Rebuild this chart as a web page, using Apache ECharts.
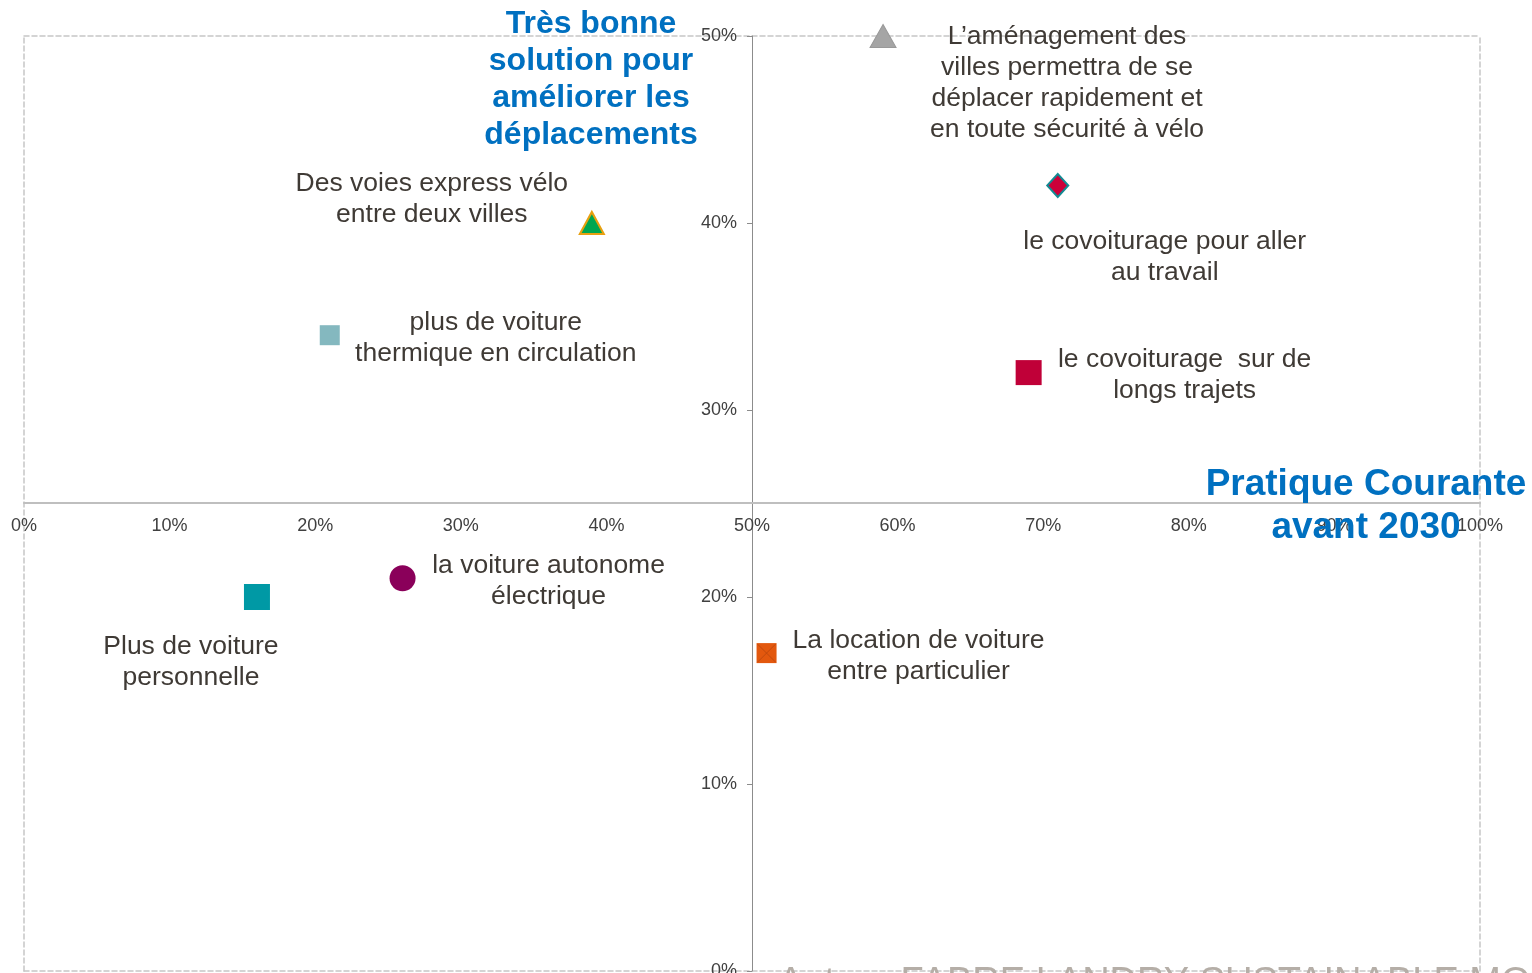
<!DOCTYPE html>
<html>
<head>
<meta charset="utf-8">
<script src="https://cdn.jsdelivr.net/npm/echarts@6/dist/echarts.min.js"></script>
<style>
  html, body { margin: 0; padding: 0; background: #fff; overflow: hidden; }
  #chart { width: 1532px; height: 973px; }
</style>
</head>
<body>
<div id="chart"></div>
<script>
// données
const pointNames = [
  "L’aménagement des\nvilles permettra de se\ndéplacer rapidement et\nen toute sécurité à vélo",
  "le covoiturage pour aller\nau travail",
  "Des voies express vélo\nentre deux villes",
  "plus de voiture\nthermique en circulation",
  "le covoiturage  sur de\nlongs trajets",
  "la voiture autonome\nélectrique",
  "Plus de voiture\npersonnelle",
  "La location de voiture\nentre particulier"
];
const practiceValues = [59, 71, 39, 21, 69, 26, 16, 51];   // Pratique courante avant 2030 (%)
const solutionValues = [50, 42, 40, 34, 32, 21, 20, 17];   // Très bonne solution (%)
const xTicks = [0, 10, 20, 30, 40, 50, 60, 70, 80, 90, 100];
const yTicks = [0, 10, 20, 30, 40, 50];

// styles des marqueurs (pas des données)
const markerStyles = [
  { symbol: "triangle", size: [26, 23], color: "#a5a5a5", border: "#999999", bw: 1, offset: [184, 47] },
  { symbol: "diamond", size: [21, 23], color: "#cc0039", border: "#138a93", bw: 2, offset: [107, 72] },
  { symbol: "triangle", size: [24, 22], color: "#00a650", border: "#e8a010", bw: 2, offset: [-160, -24] },
  { symbol: "rect", size: [20, 20], color: "#84b8bf", border: "#84b8bf", bw: 0, offset: [166, 3] },
  { symbol: "rect", size: [26, 25], color: "#c00038", border: "#c00038", bw: 0, offset: [156, 3] },
  { symbol: "circle", size: [26, 26], color: "#8a005a", border: "#8a005a", bw: 0, offset: [146, 3] },
  { symbol: "rect", size: [26, 26], color: "#0099a5", border: "#0099a5", bw: 0, offset: [-66, 65] },
  { symbol: "rect", size: [20, 20], color: "#e3580e", border: "#c44a0c", bw: 0, offset: [152, 3] }
];

const textColor = "#3f3a35";
const blue = "#0070c0";

const chart = echarts.init(document.getElementById("chart"));

const series = pointNames.map((name, i) => {
  const s = markerStyles[i];
  return {
    name: name,
    type: "scatter",
    xAxisIndex: 0,
    yAxisIndex: 0,
    symbol: s.symbol,
    symbolSize: s.size,
    z: 5,
    itemStyle: { color: s.color, borderColor: s.border, borderWidth: s.bw, opacity: 1 },
    label: {
      show: true,
      position: "inside",
      offset: s.offset,
      formatter: name,
      align: "center",
      verticalAlign: "middle",
      color: textColor,
      fontFamily: "Liberation Sans, Arial, sans-serif",
      fontSize: 26.5,
      lineHeight: 31
    },
    emphasis: { disabled: true },
    data: [[practiceValues[i], solutionValues[i]]]
  };
});

// croix sur le carré orange
series.push({
  type: "scatter",
  xAxisIndex: 0,
  yAxisIndex: 0,
  symbol: "path://M0,0L10,10M10,0L0,10",
  symbolSize: [18, 18],
  z: 6,
  itemStyle: { color: "none", borderColor: "#b9460c", borderWidth: 1 },
  silent: true,
  data: [[practiceValues[7], solutionValues[7]]]
});

// cadre pointillé autour de la zone de tracé
const frameLine = { show: true, onZero: false, lineStyle: { color: "#c6c6c6", width: 1.5, type: [5, 3] } };
const hidden = { show: false };

const option = {
  animation: false,
  grid: { left: 24, right: 52, top: 36, bottom: 2, containLabel: false, outerBoundsMode: "none" },
  xAxis: [
    {
      type: "value",
      min: xTicks[0],
      max: xTicks[xTicks.length - 1],
      interval: 10,
      position: "bottom",
      offset: -468,
      axisLine: { show: true, onZero: false, lineStyle: { color: "#bfbfbf", width: 2 } },
      axisTick: { show: false },
      axisLabel: {
        formatter: "{value}%",
        color: "#404040",
        fontFamily: "Liberation Sans, Arial, sans-serif",
        fontSize: 18,
        margin: 14
      },
      splitLine: { show: false },
      z: 3
    },
    { type: "value", min: 0, max: 100, position: "top", axisLine: frameLine, axisTick: hidden, axisLabel: hidden, splitLine: hidden },
    { type: "value", min: 0, max: 100, position: "bottom", axisLine: frameLine, axisTick: hidden, axisLabel: hidden, splitLine: hidden }
  ],
  yAxis: [
    {
      type: "value",
      min: yTicks[0],
      max: yTicks[yTicks.length - 1],
      interval: 10,
      position: "left",
      offset: -728,
      axisLine: { show: true, onZero: false, lineStyle: { color: "#8c8c8c", width: 1 } },
      axisTick: { show: true, length: 5, lineStyle: { color: "#8c8c8c" } },
      axisLabel: {
        formatter: "{value}%",
        color: "#404040",
        fontFamily: "Liberation Sans, Arial, sans-serif",
        fontSize: 18,
        margin: 15
      },
      splitLine: { show: false },
      z: 3
    },
    { type: "value", min: 0, max: 50, position: "left", axisLine: frameLine, axisTick: hidden, axisLabel: hidden, splitLine: hidden },
    { type: "value", min: 0, max: 50, position: "right", axisLine: frameLine, axisTick: hidden, axisLabel: hidden, splitLine: hidden }
  ],
  graphic: [
    {
      type: "text",
      x: 591,
      y: 6,
      z: 10,
      style: {
        text: "Très bonne\nsolution pour\naméliorer les\ndéplacements",
        fill: blue,
        font: "bold 32px Liberation Sans, Arial, sans-serif",
        lineHeight: 37,
        align: "center",
        verticalAlign: "top"
      }
    },
    {
      type: "text",
      x: 1366,
      y: 463,
      z: 10,
      style: {
        text: "Pratique Courante\navant 2030",
        fill: blue,
        font: "bold 37px Liberation Sans, Arial, sans-serif",
        lineHeight: 43,
        align: "center",
        verticalAlign: "top"
      }
    },
    {
      type: "text",
      x: 778,
      y: 965,
      z: 10,
      style: {
        text: "Auteur FABRE LANDRY SUSTAINABLE MOBILITY",
        fill: "#b5aea7",
        font: "38px Liberation Sans, Arial, sans-serif",
        align: "left",
        verticalAlign: "top"
      }
    }
  ],
  series: series
};

chart.setOption(option);
window.addEventListener("resize", () => chart.resize());
</script>
</body>
</html>
